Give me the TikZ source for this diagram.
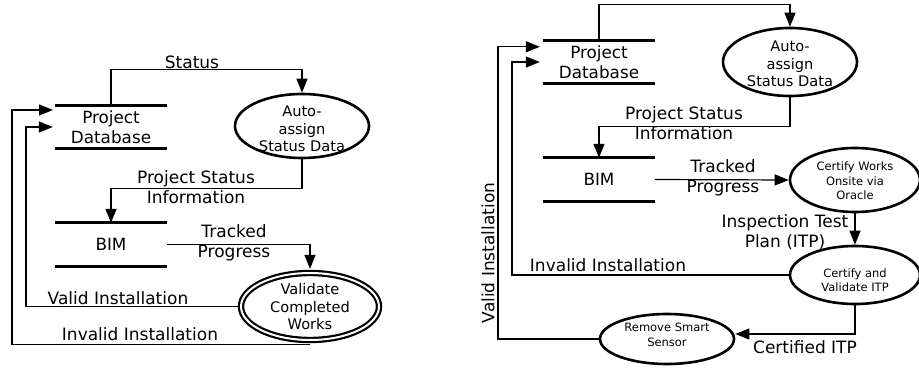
\documentclass[tikz,border=0pt]{standalone}
\usepackage{fontspec}
\setmainfont{DejaVu Sans}
\usetikzlibrary{arrows.meta,shapes.geometric,calc}
\begin{document}
\begin{tikzpicture}[x=1pt,y=1pt,
  flow/.style={line width=1.2pt,-{Triangle[length=14pt,width=11pt]}},
  store/.style={minimum width=112pt,minimum height=42pt,inner sep=0pt,
    font=\fontsize{16.8}{20}\selectfont,align=center},
  storeline/.style={line width=3pt},
  proc/.style={ellipse,draw,line width=2.6pt,inner sep=0pt},
  ptext/.style={align=center,inner sep=0pt,font=\fontsize{14.6}{17.5}\selectfont},
  stext/.style={align=center,inner sep=0pt,font=\fontsize{11.5}{14.5}\selectfont},
  lbl/.style={align=center,inner sep=0pt,font=\fontsize{17}{20}\selectfont}
]
\useasboundingbox (0,0) rectangle (919,-369);

% ---------------- left data flow ----------------
\node[store] (pdb) at (111,-127) {Project\\Database};
\draw[storeline] (pdb.north west) -- (pdb.north east);
\draw[storeline] (pdb.south west) -- (pdb.south east);

\node[store,minimum height=43pt] (bim) at (111,-244.5) {BIM};
\draw[storeline] (bim.north west) -- (bim.north east);
\draw[storeline] (bim.south west) -- (bim.south east);

\node[proc,minimum width=134pt,minimum height=64pt] (auto) at (302,-126) {};
\node[ptext] (autot) at (302,-129) {Auto-\\assign\\Status Data};

\node[ellipse,draw,line width=2.2pt,double,double distance=2pt,inner sep=0pt,
  minimum width=138pt,minimum height=67pt] (vc) at (310,-306.5) {};
\node[ptext] (vct) at (310,-307) {Validate\\Completed\\Works};

\coordinate (lv) at (26,0);
\coordinate (li) at (12,0);
\coordinate (pdbin) at (55,-110);

\draw[flow] (pdb.north) -- ++(0,36) -| (auto.north);
\draw[flow] (auto.south) -- ++(0,-29) -| (bim.north);
\draw[flow,shorten >=3pt] (bim.east) -| (vc.north);
\draw[flow,shorten >=2pt] (vc.west) -- (vc.west -| lv) |- (pdb.west);
\draw[flow,shorten >=2pt] ([yshift=-3pt]vc.south) -- ([yshift=-3pt]vc.south -| li) |- (pdbin);

\node[lbl] (l1) at (192,-62) {Status};
\node[lbl] (l2) at (196,-187) {Project Status\\Information};
\node[lbl] (l3) at (234,-243) {Tracked\\Progress};
\node[lbl] (l4) at (118,-298) {Valid Installation};
\node[lbl] (l5) at (140,-334) {Invalid Installation};

% ---------------- right data flow ----------------
\node[store] (pdb2) at (599,-62) {Project\\Database};
\draw[storeline] (pdb2.north west) -- (pdb2.north east);
\draw[storeline] (pdb2.south west) -- (pdb2.south east);

\node[store,minimum height=43pt] (bim2) at (599,-179.5) {BIM};
\draw[storeline] (bim2.north west) -- (bim2.north east);
\draw[storeline] (bim2.south west) -- (bim2.south east);

\node[proc,minimum width=134pt,minimum height=68pt] (auto2) at (790,-62) {};
\node[ptext] (auto2t) at (790,-64) {Auto-\\assign\\Status Data};

\node[proc,minimum width=130pt,minimum height=64pt] (cw) at (855,-180) {};
\node[stext] (cwt) at (855,-181) {Certify Works\\Onsite via\\Oracle};

\node[proc,minimum width=130pt,minimum height=58pt] (cv) at (855,-275) {};
\node[stext] (cvt) at (855,-280) {Certify and\\Validate ITP};

\node[proc,minimum width=134pt,minimum height=50pt] (rs) at (667,-339) {};
\node[stext] (rst) at (667,-335) {Remove Smart\\Sensor};

\coordinate (rv) at (498,0);
\coordinate (ri) at (512,0);
\coordinate (pdb2in) at ($(pdb2.north west)+(0,-6)$);

\draw[flow] (pdb2.north) -- ++(0,36) -| (auto2.north);
\draw[flow] (auto2.south) -- ++(0,-29) -| (bim2.north);
\draw[flow] (bim2.east) -- (cw.west);
\draw[flow] (cw.south) -- (cv.north);
\draw[flow,shorten >=3pt] (cv.west) -- (cv.west -| ri) |- (pdb2.west);
\draw[flow] (cv.south) |- ([yshift=5pt]rs.east);
\draw[flow,shorten >=3pt] (rs.west) -- (rs.west -| rv) |- (pdb2in);

\node[lbl] (r1) at (684,-123) {Project Status\\Information};
\node[lbl] (r2) at (723,-178) {Tracked\\Progress};
\node[lbl] (r3) at (785,-232) {Inspection Test\\Plan (ITP)};
\node[lbl] (r4) at (608,-265) {Invalid Installation};
\node[lbl] (r5) at (805,-347) {Certified ITP};
\node[lbl,rotate=90] (r6) at (488,-253) {Valid Installation};
\end{tikzpicture}
\end{document}
